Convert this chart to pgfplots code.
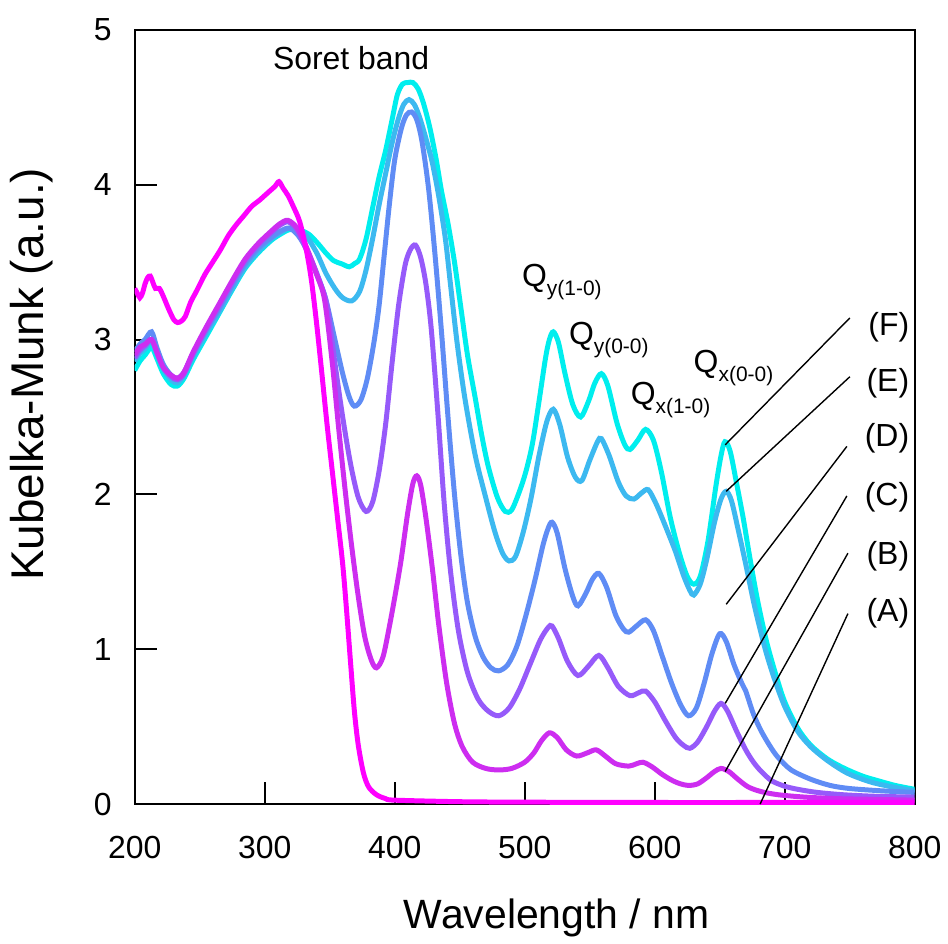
\documentclass[border=0pt]{standalone}
\usepackage{fontspec}
\setmainfont{Liberation Sans}
\usepackage{pgfplots}
\pgfplotsset{compat=1.18}
\definecolor{cA}{RGB}{255,0,255}
\definecolor{cB}{RGB}{205,45,240}
\definecolor{cC}{RGB}{150,90,250}
\definecolor{cD}{RGB}{95,140,245}
\definecolor{cE}{RGB}{60,185,240}
\definecolor{cF}{RGB}{0,238,238}
\newcommand{\sub}[1]{\raisebox{-4.5bp}{\fontsize{10.5bp}{12bp}\selectfont #1}}
\begin{document}
\begin{tikzpicture}
\begin{axis}[
 scale only axis, width=391bp, height=388bp,
 xmin=200, xmax=800, ymin=0, ymax=5,
 xtick={200,300,...,800}, ytick={0,1,...,5},
 tick align=inside, xtick pos=left, ytick pos=left,
 major tick length=11bp,
 axis line style={line width=1bp},
 every tick/.style={black, line width=1bp},
 tick label style={font=\fontsize{16bp}{19bp}\selectfont},
 xticklabel style={yshift=-12.5bp},
 yticklabel style={xshift=-8bp},
 /pgf/number format/assume math mode=true,
 xlabel={Wavelength / nm},
 ylabel={Kubelka-Munk (a.u.)},
 xlabel style={font=\fontsize{20.5bp}{24bp}\selectfont, at={(axis description cs:0.541,-0.147)}, anchor=center},
 ylabel style={font=\fontsize{23bp}{27bp}\selectfont, at={(axis description cs:-0.1317,0.555)}, anchor=center},
 every axis plot/.append style={line width=2.5bp, smooth},
]
% F
\addplot[cF] coordinates {
(200,2.80)(204,2.86)(208,2.90)(213,2.95)(217,2.88)(222,2.78)(228,2.71)(233,2.70)(238,2.75)(245,2.87)(255,3.02)(265,3.17)(275,3.32)(285,3.46)(295,3.56)(305,3.64)(312,3.68)(319,3.71)(326,3.71)(334,3.68)(341,3.62)(347,3.56)(353,3.51)(359,3.49)(365,3.47)(369,3.49)(373,3.52)(378,3.65)(383,3.85)(388,4.05)(393,4.22)(398,4.42)(402,4.58)(406,4.65)(410,4.66)(414,4.66)(418,4.62)(422,4.53)(427,4.37)(432,4.16)(436,3.96)(441,3.75)(446,3.50)(451,3.20)(456,2.90)(462,2.62)(467,2.38)(472,2.18)(479,1.98)(485,1.89)(490,1.90)(496,2.02)(501,2.15)(506,2.33)(511,2.60)(516,2.88)(519,3.00)(522,3.05)(526,2.98)(531,2.78)(537,2.58)(543,2.50)(549,2.60)(554,2.72)(559,2.78)(564,2.70)(571,2.46)(577,2.32)(581,2.29)(587,2.35)(593,2.42)(599,2.35)(605,2.15)(612,1.85)(619,1.62)(625,1.47)(630,1.42)(635,1.47)(641,1.70)(647,2.05)(651,2.25)(654,2.34)(658,2.28)(663,2.07)(668,1.85)(673,1.60)(679,1.32)(686,1.05)(693,0.84)(700,0.66)(710,0.49)(720,0.38)(733,0.29)(746,0.23)(760,0.18)(772,0.15)(785,0.12)(800,0.095)};
% E
\addplot[cE] coordinates {
(200,2.86)(204,2.91)(208,2.94)(213,2.99)(217,2.91)(222,2.81)(228,2.74)(233,2.72)(238,2.77)(245,2.89)(255,3.04)(265,3.18)(275,3.33)(285,3.47)(295,3.57)(305,3.65)(312,3.69)(319,3.72)(326,3.71)(332,3.67)(340,3.56)(347,3.43)(354,3.33)(360,3.27)(367,3.25)(373,3.31)(378,3.45)(383,3.65)(388,3.87)(393,4.07)(398,4.27)(403,4.43)(407,4.52)(411,4.55)(415,4.52)(419,4.44)(424,4.30)(429,4.14)(434,3.92)(439,3.65)(443,3.35)(448,2.98)(454,2.62)(462,2.25)(470,1.98)(477,1.76)(483,1.62)(488,1.57)(493,1.60)(499,1.76)(505,1.98)(511,2.25)(517,2.47)(522,2.55)(527,2.45)(533,2.24)(539,2.11)(544,2.09)(550,2.22)(556,2.34)(559,2.36)(565,2.25)(572,2.08)(578,1.99)(584,1.97)(590,2.01)(595,2.03)(601,1.94)(608,1.80)(616,1.63)(622,1.48)(627,1.38)(630,1.35)(635,1.42)(640,1.58)(646,1.82)(651,1.97)(655,2.02)(659,1.96)(664,1.78)(670,1.55)(677,1.27)(685,1.00)(692,0.81)(700,0.63)(710,0.47)(720,0.37)(733,0.28)(748,0.20)(765,0.145)(780,0.115)(800,0.085)};
% D
\addplot[cD] coordinates {
(200,2.92)(204,2.97)(208,3.00)(213,3.05)(217,2.95)(222,2.84)(228,2.77)(233,2.75)(238,2.79)(245,2.91)(255,3.06)(265,3.20)(275,3.35)(285,3.49)(295,3.59)(305,3.66)(312,3.70)(319,3.72)(326,3.67)(333,3.57)(340,3.43)(347,3.26)(354,3.00)(360,2.78)(365,2.63)(369,2.57)(374,2.61)(379,2.75)(384,2.98)(388,3.22)(392,3.55)(396,3.88)(400,4.16)(405,4.36)(409,4.45)(413,4.47)(417,4.42)(421,4.28)(426,3.98)(431,3.55)(436,3.05)(441,2.50)(446,2.00)(451,1.60)(456,1.30)(462,1.08)(468,0.95)(474,0.88)(480,0.86)(487,0.90)(494,1.02)(501,1.22)(508,1.45)(514,1.67)(518,1.78)(521,1.82)(525,1.75)(531,1.52)(537,1.34)(541,1.28)(547,1.36)(552,1.45)(557,1.49)(563,1.40)(570,1.22)(576,1.13)(580,1.11)(586,1.15)(593,1.19)(599,1.12)(606,0.95)(613,0.78)(620,0.64)(626,0.57)(632,0.62)(638,0.78)(644,0.97)(650,1.10)(655,1.05)(661,0.90)(667,0.78)(670,0.73)(676,0.58)(682,0.47)(689,0.37)(695,0.30)(705,0.22)(720,0.16)(735,0.12)(750,0.10)(775,0.085)(800,0.075)};
% C
\addplot[cC] coordinates {
(200,2.88)(204,2.93)(208,2.96)(213,3.00)(217,2.92)(222,2.82)(228,2.76)(233,2.74)(238,2.78)(245,2.91)(255,3.07)(265,3.22)(275,3.37)(285,3.51)(295,3.61)(305,3.69)(312,3.74)(318,3.76)(324,3.72)(330,3.62)(336,3.50)(342,3.38)(348,3.22)(354,2.85)(360,2.50)(366,2.20)(372,1.98)(378,1.89)(383,1.95)(388,2.15)(393,2.45)(398,2.85)(403,3.22)(408,3.48)(412,3.58)(416,3.61)(420,3.53)(424,3.36)(428,3.08)(433,2.55)(438,1.95)(443,1.50)(449,1.12)(456,0.85)(464,0.68)(472,0.60)(480,0.57)(488,0.62)(496,0.74)(504,0.90)(512,1.06)(518,1.14)(521,1.15)(526,1.07)(533,0.92)(541,0.83)(549,0.89)(557,0.96)(564,0.88)(572,0.76)(581,0.70)(588,0.72)(593,0.73)(600,0.66)(608,0.54)(616,0.43)(622,0.38)(627,0.36)(633,0.40)(640,0.50)(646,0.60)(651,0.65)(656,0.60)(663,0.47)(670,0.35)(676,0.27)(682,0.21)(690,0.15)(700,0.115)(710,0.095)(725,0.075)(745,0.06)(770,0.05)(800,0.045)};
% B
\addplot[cB] coordinates {
(200,2.90)(204,2.95)(208,2.97)(213,3.00)(217,2.92)(222,2.82)(228,2.77)(233,2.75)(238,2.79)(245,2.92)(255,3.08)(265,3.23)(275,3.38)(285,3.52)(295,3.62)(305,3.70)(312,3.75)(318,3.77)(325,3.72)(332,3.60)(340,3.42)(346,3.26)(352,2.85)(357,2.42)(362,2.02)(367,1.66)(372,1.34)(377,1.08)(382,0.93)(386,0.88)(391,0.95)(396,1.15)(401,1.38)(405,1.58)(410,1.88)(414,2.07)(417,2.12)(420,2.06)(424,1.85)(429,1.52)(434,1.15)(440,0.78)(446,0.52)(452,0.37)(460,0.27)(470,0.23)(480,0.22)(490,0.23)(500,0.27)(507,0.33)(513,0.41)(519,0.46)(525,0.43)(532,0.35)(540,0.31)(548,0.33)(555,0.35)(562,0.31)(570,0.26)(580,0.245)(586,0.26)(591,0.27)(598,0.24)(606,0.19)(614,0.15)(620,0.13)(626,0.12)(633,0.13)(640,0.17)(646,0.21)(651,0.23)(657,0.21)(664,0.16)(672,0.11)(682,0.08)(695,0.06)(715,0.045)(740,0.035)(770,0.03)(800,0.025)};
% A
\addplot[cA] coordinates {
(200,3.33)(202,3.30)(204,3.27)(206,3.30)(208,3.36)(210,3.40)(212,3.41)(214,3.37)(216,3.33)(219,3.33)(222,3.28)(226,3.20)(230,3.13)(233,3.11)(236,3.12)(239,3.15)(243,3.24)(248,3.32)(254,3.42)(260,3.50)(266,3.58)(272,3.67)(278,3.74)(284,3.80)(290,3.86)(296,3.90)(300,3.93)(304,3.96)(308,3.99)(311,4.02)(314,3.98)(318,3.93)(322,3.86)(327,3.76)(332,3.58)(336,3.38)(340,3.10)(344,2.78)(348,2.45)(352,2.15)(356,1.85)(360,1.55)(363,1.25)(366,0.92)(369,0.60)(372,0.38)(376,0.20)(380,0.11)(386,0.06)(393,0.035)(400,0.025)(450,0.015)(500,0.012)(600,0.01)(700,0.01)(800,0.01)};
% annotations
\node[font=\fontsize{16bp}{19bp}\selectfont] at (axis cs:366.5,4.82) {Soret band};
\node[anchor=base west, inner sep=0pt, font=\fontsize{16bp}{19bp}\selectfont] at (axis cs:497.7,3.34) {Q\sub{y(1-0)}};
\node[anchor=base west, inner sep=0pt, font=\fontsize{16bp}{19bp}\selectfont] at (axis cs:533.8,2.97) {Q\sub{y(0-0)}};
\node[anchor=base west, inner sep=0pt, font=\fontsize{16bp}{19bp}\selectfont] at (axis cs:581.3,2.58) {Q\sub{x(1-0)}};
\node[anchor=base west, inner sep=0pt, font=\fontsize{16bp}{19bp}\selectfont] at (axis cs:629.7,2.79) {Q\sub{x(0-0)}};
\draw[black, line width=0.7bp] (axis cs:750.1,3.14) -- (axis cs:654.2,2.32);
\draw[black, line width=0.7bp] (axis cs:750.1,2.76) -- (axis cs:655.0,2.02);
\draw[black, line width=0.7bp] (axis cs:747.8,2.31) -- (axis cs:655.0,1.29);
\draw[black, line width=0.7bp] (axis cs:747.8,1.99) -- (axis cs:654.2,0.65);
\draw[black, line width=0.7bp] (axis cs:748.6,1.62) -- (axis cs:654.2,0.21);
\draw[black, line width=0.7bp] (axis cs:748.6,1.23) -- (axis cs:681.1,0.0);
\node[anchor=east, inner sep=0pt, font=\fontsize{16bp}{19bp}\selectfont] at (axis cs:796,3.08) {(F)};
\node[anchor=east, inner sep=0pt, font=\fontsize{16bp}{19bp}\selectfont] at (axis cs:796,2.72) {(E)};
\node[anchor=east, inner sep=0pt, font=\fontsize{16bp}{19bp}\selectfont] at (axis cs:796,2.36) {(D)};
\node[anchor=east, inner sep=0pt, font=\fontsize{16bp}{19bp}\selectfont] at (axis cs:796,1.98) {(C)};
\node[anchor=east, inner sep=0pt, font=\fontsize{16bp}{19bp}\selectfont] at (axis cs:796,1.60) {(B)};
\node[anchor=east, inner sep=0pt, font=\fontsize{16bp}{19bp}\selectfont] at (axis cs:796,1.23) {(A)};
\coordinate (bbl) at (rel axis cs:-0.17263,-0.17268);
\coordinate (btr) at (rel axis cs:1.03964,1.03866);
\end{axis}
\path (bbl) rectangle (btr);
\end{tikzpicture}
\end{document}
